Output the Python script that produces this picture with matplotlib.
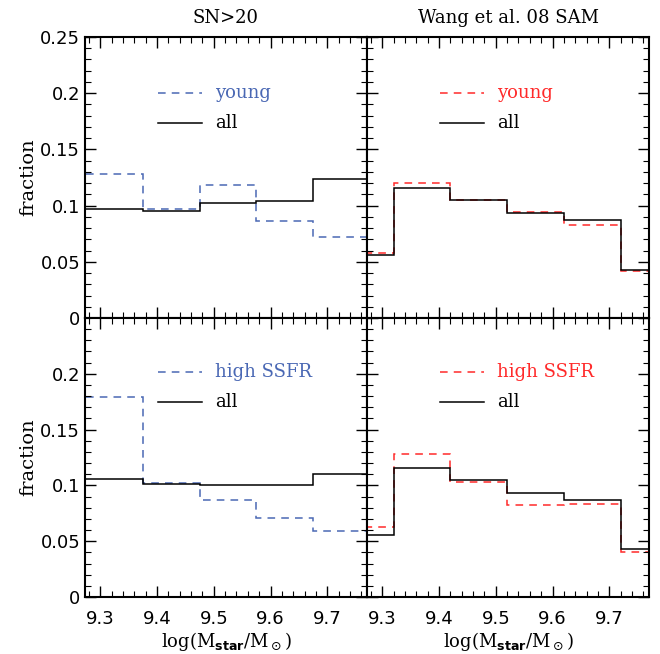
import numpy as np
import matplotlib.pyplot as plt
from matplotlib.ticker import MultipleLocator, FuncFormatter

#%% DATA

# bin edges (log stellar mass)
edges_obs = [9.275, 9.375, 9.475, 9.575, 9.675, 9.775]
edges_sam = [9.22, 9.32, 9.42, 9.52, 9.62, 9.72, 9.82]

# SN>20 sample
obs_young = [0.128, 0.097, 0.118, 0.086, 0.072]
obs_all_top = [0.097, 0.095, 0.102, 0.104, 0.124]
obs_ssfr = [0.179, 0.102, 0.087, 0.071, 0.059]
obs_all_bot = [0.106, 0.101, 0.100, 0.100, 0.110]

# Wang et al. 08 SAM
sam_young = [0.0575, 0.120, 0.105, 0.094, 0.083, 0.0415]
sam_all = [0.056, 0.116, 0.105, 0.093, 0.087, 0.043]
sam_ssfr = [0.063, 0.128, 0.103, 0.082, 0.083, 0.040]

col_titles = ['SN>20', 'Wang et al. 08 SAM']
blue = '#4a68b4'
red = '#ff2a2a'

#%% PLOT

fig = plt.figure(figsize=(6.6, 6.54), dpi=100)
L, W = 85/660, 282/660
B1, H1 = (654-318)/654, 281/654
B2, H2 = (654-597)/654, 279/654

ax_tl = fig.add_axes([L, B1, W, H1])
ax_tr = fig.add_axes([L+W, B1, W, H1])
ax_bl = fig.add_axes([L, B2, W, H2])
ax_br = fig.add_axes([L+W, B2, W, H2])

serif = 'DejaVu Serif'
dash = (0, (5, 4))

panels = [
    (ax_tl, edges_obs, obs_young, obs_all_top, blue, 'young'),
    (ax_tr, edges_sam, sam_young, sam_all, red, 'young'),
    (ax_bl, edges_obs, obs_ssfr, obs_all_bot, blue, 'high SSFR'),
    (ax_br, edges_sam, sam_ssfr, sam_all, red, 'high SSFR'),
]

fmt = FuncFormatter(lambda v, p: '%g' % round(v, 3))

for ax, edges, sub, alls, c, name in panels:
    ax.stairs(sub, edges, color=c, lw=1.1, ls=dash, baseline=None)
    ax.stairs(alls, edges, color='black', lw=1.1, baseline=None)
    ax.set_xlim(9.273, 9.77)
    ax.set_ylim(0, 0.25)
    ax.xaxis.set_major_locator(MultipleLocator(0.1))
    ax.xaxis.set_minor_locator(MultipleLocator(0.02))
    ax.yaxis.set_major_locator(MultipleLocator(0.05))
    ax.yaxis.set_minor_locator(MultipleLocator(0.01))
    ax.yaxis.set_major_formatter(fmt)
    ax.tick_params(which='both', direction='in', top=True, right=True, labelsize=13)
    ax.tick_params(which='major', length=8, width=1)
    ax.tick_params(which='minor', length=4, width=0.8)
    ax.tick_params(axis='x', which='major', pad=9)
    for s in ax.spines.values():
        s.set_linewidth(1.5)
    # legend drawn by hand
    yl = 0.80 if ax in (ax_tl, ax_tr) else 0.805
    ya = 0.694 if ax in (ax_tl, ax_tr) else 0.70
    ax.plot([0.26, 0.415], [yl, yl], transform=ax.transAxes, color=c, lw=1.1, ls=dash)
    ax.text(0.46, yl, name, transform=ax.transAxes, color=c, va='center',
            fontsize=13, family=serif)
    ax.plot([0.26, 0.415], [ya, ya], transform=ax.transAxes, color='black', lw=1.1)
    ax.text(0.46, ya, 'all', transform=ax.transAxes, color='black', va='center',
            fontsize=13, family=serif)

for ax in (ax_tl, ax_tr):
    ax.tick_params(labelbottom=False)
for ax in (ax_tr, ax_br):
    ax.tick_params(labelleft=False)

ax_bl.set_yticks([0, 0.05, 0.1, 0.15, 0.2])
ax_bl.yaxis.set_major_formatter(fmt)
ax_bl.set_ylim(0, 0.25)

for ax in (ax_tl, ax_bl):
    ax.set_ylabel('fraction', fontsize=14, family=serif, labelpad=2)
for ax in (ax_bl, ax_br):
    ax.set_xlabel(r'log(M$_{\mathbf{star}}$/M$_\odot$)', fontsize=13, family=serif,
                  labelpad=2)

ax_tl.set_title(col_titles[0], fontsize=13, family=serif, pad=10)
ax_tr.set_title(col_titles[1], fontsize=13, family=serif, pad=10)

fig.savefig('out.png', dpi=100)
